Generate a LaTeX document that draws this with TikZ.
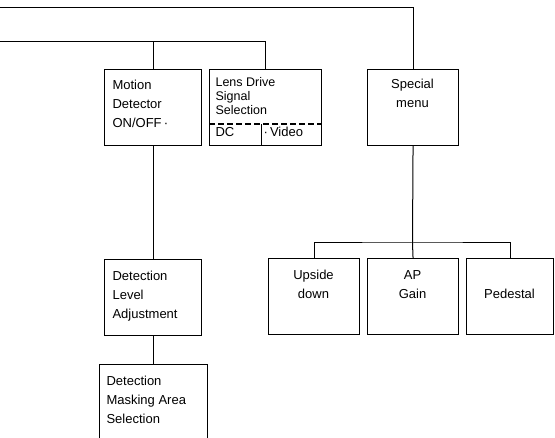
\documentclass[tikz,border=0pt]{standalone}
\usepackage{fontspec}
\setmainfont{Liberation Sans}
\begin{document}
\begin{tikzpicture}[x=1pt,y=-1pt,line width=1.1pt,
  box/.style={draw,inner sep=0pt,anchor=north west},
  wire/.style={line width=1pt},
  lt/.style={anchor=base west,inner sep=0pt,font=\fontsize{13}{19}\selectfont},
  ct/.style={anchor=base,inner sep=0pt,font=\fontsize{13}{19}\selectfont},
  dsh/.style={line width=1.1pt,dash pattern=on 6pt off 3pt}]
\useasboundingbox (0,0) rectangle (555,438);
\clip (0,0) rectangle (555,438);
% boxes
\node[box,minimum width=97pt,minimum height=76pt] (md) at (104,69) {};
\node[box,minimum width=112pt,minimum height=76pt] (ld) at (209,69) {};
\node[box,minimum width=91pt,minimum height=76pt] (sm) at (367,69) {};
\node[box,minimum width=97pt,minimum height=76pt] (dl) at (104,259) {};
\node[box,minimum width=108pt,minimum height=100pt] (dm) at (99,364) {};
\node[box,minimum width=91pt,minimum height=76pt] (ud) at (268,258) {};
\node[box,minimum width=91pt,minimum height=76pt] (ap) at (367,258) {};
\node[box,minimum width=87pt,minimum height=76pt] (pd) at (466,258) {};
% texts
\node[lt] (mdt) at (112,90) {\parbox[t]{90pt}{\raggedright Motion\\Detector\\ON/OFF\,·}};
\node[lt,font=\fontsize{12.5}{14}\selectfont] (ldt) at (215,87) {\parbox[t]{100pt}{\raggedright Lens Drive\\Signal\\Selection}};
\node[lt] (dct) at (215,137) {DC};
\node[lt] (vidt) at (263,137) {·\,Video};
\node[ct] (smt) at (412.5,89) {\parbox[t]{88pt}{\centering Special\\menu}};
\node[lt] (dlt) at (112,281) {\parbox[t]{90pt}{\raggedright Detection\\Level\\Adjustment}};
\node[lt] (dmt) at (106,386) {\parbox[t]{100pt}{\raggedright Detection\\Masking Area\\Selection}};
\node[ct] (udt) at (313.5,280) {\parbox[t]{88pt}{\centering Upside\\down}};
\node[ct] (apt) at (412.5,280) {\parbox[t]{88pt}{\centering AP\\Gain}};
\node[ct] (pdt) at (509.5,299) {Pedestal};
% lens drive compartments
\coordinate (dy) at (0,124);
\draw[dsh] (ld.west |- dy) -- (ld.east |- dy);
\coordinate (dv) at (261,124);
\draw[wire] (dv) -- (dv |- ld.south);
% connectors
\coordinate (s1) at (0,8);
\coordinate (s2) at (0,42);
\draw[wire] (s1) -| (sm.north);
\draw[wire] (s2) -| (ld.north);
\draw[wire] (md.north) -- (md.north |- s2);
\draw[wire] (md.south) -- (dl.north);
\draw[wire] (dl.south) -- (dl.south |- dm.north);
\coordinate (rb) at (412.5,243);
\draw[wire] (sm.south) -- (rb);
\draw[wire] (ud.north) |- (rb) -| (pd.north);
\draw[wire] (rb) -- (ap.north);
\end{tikzpicture}
\end{document}
